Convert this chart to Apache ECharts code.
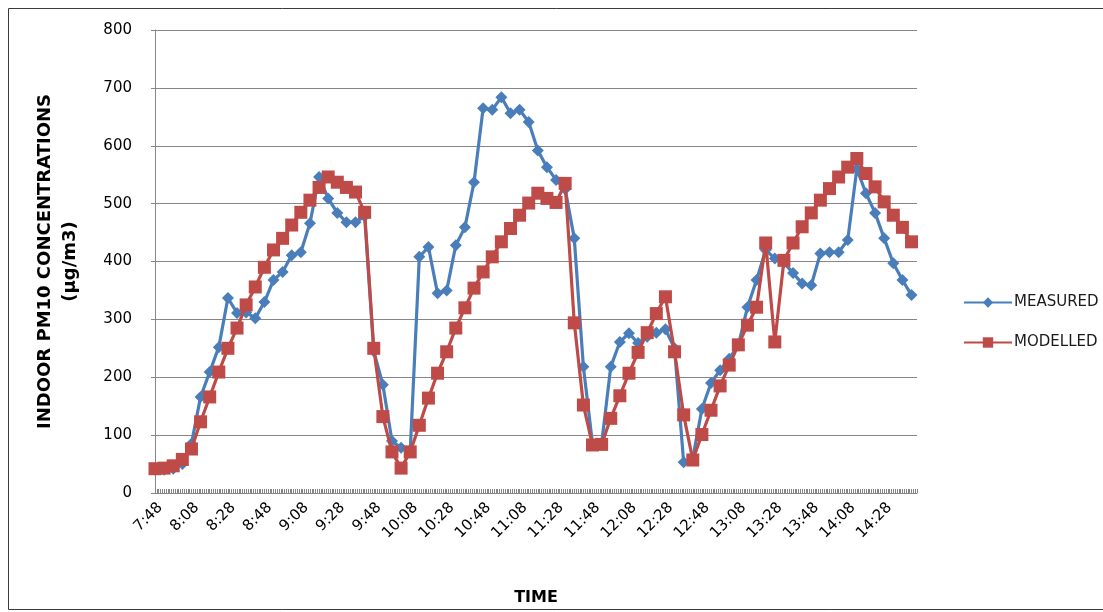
<!DOCTYPE html>
<html>
<head>
<meta charset="utf-8">
<script src="https://cdn.jsdelivr.net/npm/echarts@6/dist/echarts.min.js"></script>
<style>
  html, body { margin: 0; padding: 0; background: #ffffff; }
  #chart { width: 1103px; height: 612px; }
</style>
</head>
<body>
<div id="chart"></div>
<script>
// Time axis: one category per minute; samples every 5 minutes
const axisStart = '7:48';
const axisEnd = '14:46';
const sampleStart = '7:48';
const sampleStepMin = 5;

// Indoor PM10 concentrations (µg/m3)
const measured = [
  40, 40, 42, 50, 85, 166, 209, 252, 337, 311,
  312, 302, 330, 368, 382, 411, 416, 466, 546, 509,
  484, 468, 468, 478, 245, 187, 90, 78, 72, 408,
  425, 345, 350, 428, 459, 537, 665, 662, 684, 656,
  662, 641, 592, 563, 541, 525, 440, 218, 85, 85,
  218, 261, 276, 259, 270, 277, 283, 250, 53, 60,
  145, 190, 212, 232, 255, 321, 368, 420, 405, 398,
  380, 362, 359, 414, 416, 416, 437, 560, 518, 484,
  440, 397, 368, 342
];
const modelled = [
  42, 43, 47, 58, 76, 123, 166, 209, 250, 285,
  325, 356, 390, 420, 440, 463, 485, 506, 528, 546,
  537, 528, 520, 485, 250, 132, 71, 43, 71, 117,
  164, 207, 244, 285, 320, 354, 382, 408, 434, 457,
  480, 501, 518, 509, 502, 535, 294, 152, 83, 84,
  129, 168, 207, 243, 277, 310, 339, 244, 135, 57,
  101, 143, 185, 221, 256, 290, 321, 432, 261, 402,
  432, 460, 484, 506, 526, 546, 563, 578, 552, 529,
  503, 480, 459, 434
];

const seriesNames = ['MEASURED', 'MODELLED'];
const yTicks = { min: 0, max: 800, step: 100 };

function toMin(t) { const p = t.split(':'); return (+p[0]) * 60 + (+p[1]); }
function toLabel(m) { return Math.floor(m / 60) + ':' + String(m % 60).padStart(2, '0'); }

const categories = [];
for (let m = toMin(axisStart); m <= toMin(axisEnd); m++) categories.push(toLabel(m));

function pairs(values) {
  const s = toMin(sampleStart);
  return values.map((v, i) => [toLabel(s + i * sampleStepMin), v]);
}

const axisFont = 'DejaVu Sans';
const chart = echarts.init(document.getElementById('chart'), null, { renderer: 'canvas' });

chart.setOption({
  animation: false,
  backgroundColor: '#ffffff',
  graphic: [{
    type: 'rect',
    shape: { x: 8.5, y: 8.5, width: 1120, height: 601 },
    style: { fill: 'none', stroke: '#3a3a3a', lineWidth: 1 },
    silent: true
  }],
  grid: { left: 155, right: 186, top: 30, bottom: 119, containLabel: false },
  legend: {
    orient: 'vertical',
    left: 958,
    top: 290,
    itemGap: 25,
    itemWidth: 48,
    itemHeight: 13,
    textStyle: { fontFamily: axisFont, fontSize: 15, color: '#1a1a1a', padding: [0, 0, 0, -3] },
    data: seriesNames
  },
  xAxis: {
    type: 'category',
    data: categories,
    boundaryGap: false,
    name: 'TIME',
    nameLocation: 'middle',
    nameGap: 97,
    nameTextStyle: { fontFamily: axisFont, fontSize: 16, fontWeight: 'bold', color: '#000' },
    axisLine: { lineStyle: { color: '#868686', width: 1 } },
    axisTick: { show: true, inside: true, length: 4, interval: 0, lineStyle: { color: '#868686' } },
    axisLabel: {
      interval: 19,
      rotate: 45,
      margin: 7,
      verticalAlign: 'top',
      fontFamily: axisFont,
      fontSize: 15,
      color: '#000'
    },
    splitLine: { show: false }
  },
  yAxis: {
    type: 'value',
    min: yTicks.min,
    max: yTicks.max,
    interval: yTicks.step,
    name: 'INDOOR PM10 CONCENTRATIONS\n(µg/m3)',
    nameLocation: 'middle',
    nameRotate: 90,
    nameGap: 72,
    nameTextStyle: { fontFamily: axisFont, fontSize: 18, fontWeight: 'bold', color: '#000', lineHeight: 25 },
    axisLine: { show: true, lineStyle: { color: '#868686', width: 1 } },
    axisTick: { show: true, length: 4, lineStyle: { color: '#868686' } },
    axisLabel: { margin: 23, fontFamily: axisFont, fontSize: 15, color: '#000' },
    splitLine: { show: true, lineStyle: { color: '#868686', width: 1 } }
  },
  series: [
    {
      name: seriesNames[0],
      type: 'line',
      data: pairs(measured),
      symbol: 'diamond',
      symbolSize: 12,
      showAllSymbol: true,
      lineStyle: { color: '#4a7ebb', width: 3.2 },
      itemStyle: { color: '#4a7ebb' },
      z: 2
    },
    {
      name: seriesNames[1],
      type: 'line',
      data: pairs(modelled),
      symbol: 'rect',
      symbolSize: 13,
      showAllSymbol: true,
      lineStyle: { color: '#be4b48', width: 3.2 },
      itemStyle: { color: '#be4b48' },
      z: 3
    }
  ]
});
</script>
</body>
</html>
